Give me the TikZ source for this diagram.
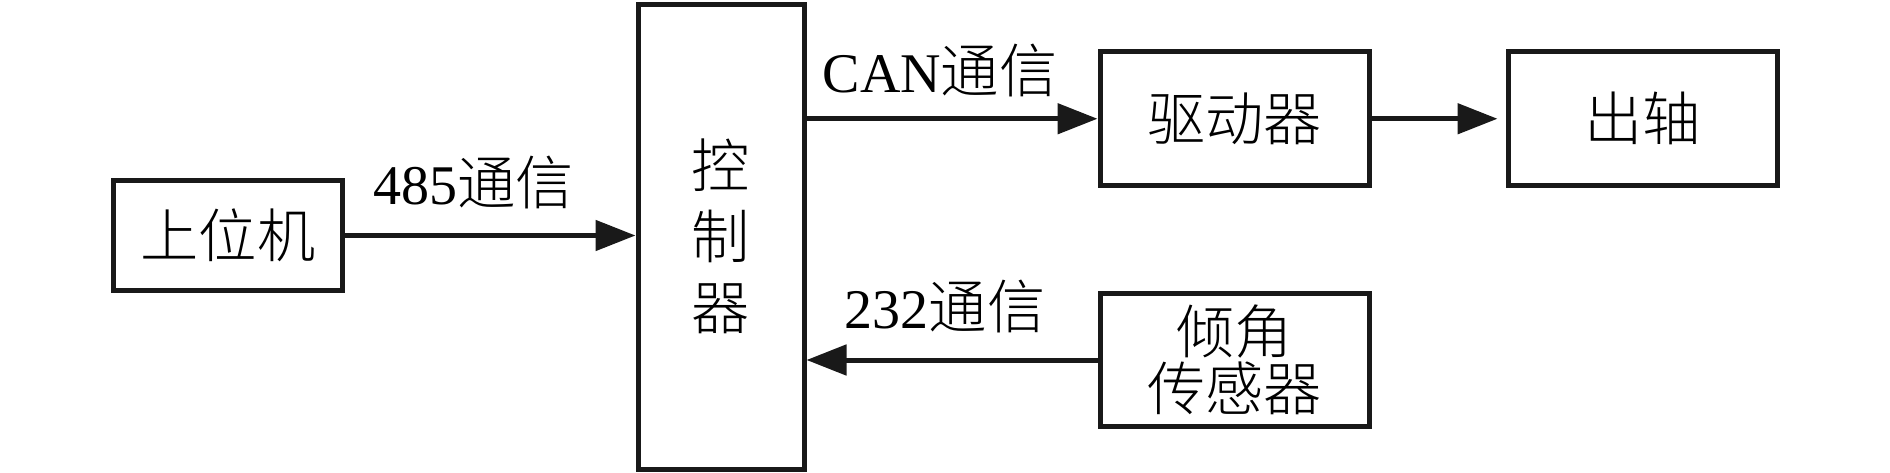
\documentclass[tikz,border=0pt]{standalone}
\usepackage{fontspec}
\setmainfont{Liberation Serif}
\newfontfamily\cjk[UprightFont={* Light},Scale=1.04]{Noto Sans CJK SC}
\usetikzlibrary{arrows.meta}
\tikzset{
  blk/.style={draw=black!90, line width=5pt, rectangle, inner sep=0pt, align=center,
    font=\fontsize{56}{57}\selectfont\cjk},
  conn/.style={draw=black!90, line width=5pt, -{Triangle[length=40pt,width=30pt]}},
  lbl/.style={anchor=base, inner sep=0pt, font=\fontsize{56}{57}\selectfont}
}
\begin{document}
\begin{tikzpicture}[x=1pt,y=-1pt]
\useasboundingbox (0,0) rectangle (1890,473);
\node[blk, minimum width=229.5pt, minimum height=110.5pt] (host) at (228,235.5) {上位机};
\node[blk, minimum width=166pt, minimum height=464.5pt, font=\fontsize{56}{71}\selectfont\cjk] (ctrl) at (721,236.75) {控\\制\\器};
\node[blk, minimum width=269pt, minimum height=133.5pt] (drv) at (1234.5,118.75) {驱动器};
\node[blk, minimum width=269pt, minimum height=133.5pt] (out) at (1642.5,118.75) {出轴};
\node[blk, minimum width=269pt, minimum height=133pt] (sens) at (1234.5,360) {倾角\\传感器};
\draw[conn] (host.east) -- (host.east -| ctrl.west);
\draw[conn] (drv.west -| ctrl.east) -- (drv.west);
\draw[conn, shorten >=8pt] (drv.east) -- (out.west);
\draw[conn] (sens.west) -- (sens.west -| ctrl.east);
\node[lbl] (l485) at (473.5,205) {485{\cjk 通信}};
\node[lbl] (lcan) at (940,93) {CAN{\cjk 通信}};
\node[lbl] (l232) at (945,328) {232{\cjk 通信}};
\end{tikzpicture}
\end{document}
